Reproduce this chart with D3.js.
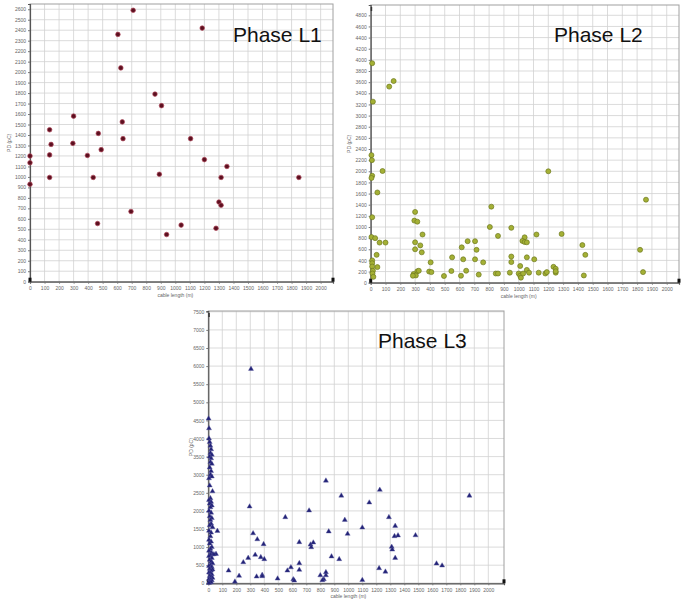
<!DOCTYPE html>
<html><head><meta charset="utf-8">
<script src="https://cdn.jsdelivr.net/npm/d3@7"></script>
<style>body{margin:0;background:#fff}svg{display:block}</style>
</head><body>
<script>
// ---- data ----
const xTicks = d3.range(0, 2001, 100);
const l1YTicks = d3.range(0, 2601, 100);
const l2YTicks = d3.range(0, 4801, 200);
const l3YTicks = d3.range(0, 7501, 500);

const l1Points = [
 [710,2590],[1185,2420],[605,2360],[625,2040],[860,1790],[905,1680],[300,1580],[635,1525],
 [135,1450],[470,1415],[640,1365],[1105,1365],[145,1310],[295,1320],[490,1260],[135,1210],
 [395,1205],[0,1200],[0,1135],[1200,1165],[1355,1100],[890,1025],[135,995],[435,995],
 [1315,995],[1850,995],[0,930],[695,670],[1300,760],[1315,730],[465,555],[1040,540],
 [1280,510],[940,450]
];
const l2Points = [
 [10,3940],[125,3520],[155,3620],[15,3250],[5,2290],[8,2200],[10,1920],[5,1880],[80,2005],
 [45,1620],[1200,2000],[1860,1490],[815,1365],[10,1175],[300,1270],[295,1115],[315,1095],
 [805,1000],[950,985],[350,865],[860,840],[1120,865],[1290,875],[5,820],[30,800],[1040,815],
 [100,720],[60,720],[300,725],[655,745],[705,745],[1025,750],[1040,730],[1055,725],[1430,675],
 [335,670],[615,635],[300,600],[715,590],[1820,590],[345,545],[40,500],[1450,500],[550,455],
 [950,470],[1055,455],[625,420],[705,420],[1105,420],[10,400],[10,350],[405,365],[760,365],
 [950,370],[10,290],[15,215],[45,280],[1010,300],[1235,285],[1250,250],[315,205],[325,215],
 [395,200],[410,190],[545,210],[645,215],[730,145],[290,155],[305,130],[285,125],[495,120],
 [610,125],[845,165],[860,165],[940,180],[1000,165],[1010,125],[1015,90],[1030,165],[1055,230],
 [1070,180],[1135,180],[1180,165],[1190,190],[1250,180],[1250,205],[1440,130],[1840,190],
 [12,165],[18,105]
];
const l3Points = [
 [305,5920],[840,2835],[1225,2580],[1865,2420],[950,2420],[1150,2230],[30,2540],[295,2120],
 [720,2010],[550,1825],[1290,1825],[975,1750],[65,1445],[1100,1540],[1335,1585],[320,1380],
 [860,1430],[995,1365],[1330,1300],[1355,1320],[1480,1325],[350,1215],[650,1135],[395,1080],
 [730,1070],[750,1125],[735,995],[1310,1005],[1314,930],[335,785],[55,810],[880,740],[935,665],
 [285,700],[250,580],[375,720],[400,665],[1335,700],[1630,545],[1670,490],[650,555],[650,370],
 [590,440],[565,350],[145,350],[1220,415],[1265,320],[385,230],[385,195],[345,185],[220,205],
 [190,45],[495,130],[607,110],[614,75],[800,220],[840,220],[840,305],[825,110],[815,85],[1100,90],
 // dense column near the origin
 [2,4550],[5,4280],[5,4000],[10,3900],[15,3800],[20,3700],[15,3600],[25,3550],[10,3500],
 [20,3450],[15,3350],[25,3300],[10,3200],[20,3100],[15,3000],[25,2950],[5,2900],[10,2700],
 [15,2350],[5,2300],[20,2250],[10,2200],[25,2150],[15,2100],[5,2000],[20,1950],[10,1850],
 [25,1800],[15,1750],[20,1650],[10,1600],[30,1550],[5,1450],[20,1400],[15,1300],[5,1200],
 [20,1150],[10,1100],[25,1000],[15,950],[5,900],[20,850],[30,800],[40,800],[15,780],[5,750],
 [25,700],[10,650],[20,600],[30,550],[15,500],[5,480],[25,450],[10,400],[30,380],[20,350],
 [5,300],[15,280],[25,250],[10,200],[20,180],[30,150],[5,120],[15,100],[25,80],[10,50],
 [20,30],[5,10]
];

const labels = ["Phase L1", "Phase L2", "Phase L3"];
const xTitle = "cable length (m)";
const yTitle = "PD (pC)";

// ---- layout ----
const svg = d3.select("body").append("svg").attr("width", 691).attr("height", 599);

const panels = [
 {pts:l1Points, yt:l1YTicks, left:30, right:333, top:4, bottom:281.7, xMax:2085, yMax:2650,
  label:labels[0], lx:233, ly:42, yTitleX:11, kind:"circleRed"},
 {pts:l2Points, yt:l2YTicks, left:370.7, right:679, top:5, bottom:282.7, xMax:2083, yMax:4985,
  label:labels[1], lx:554, ly:42, yTitleX:351, kind:"circleGreen"},
 {pts:l3Points, yt:l3YTicks, left:208.3, right:504, top:311, bottom:583.3, xMax:2112, yMax:7522,
  label:labels[2], lx:378, ly:347.5, yTitleX:193, kind:"triangle"}
];

panels.forEach(p => {
  const x = d3.scaleLinear().domain([0, p.xMax]).range([p.left, p.right]);
  const y = d3.scaleLinear().domain([0, p.yMax]).range([p.bottom, p.top]);
  const g = svg.append("g");

  // grid
  g.append("g").selectAll("line").data(xTicks.filter(d => d > 0)).join("line")
    .attr("x1", d => x(d)).attr("x2", d => x(d)).attr("y1", p.top).attr("y2", p.bottom)
    .attr("stroke", "#d2d2d2").attr("stroke-width", 0.8);
  g.append("g").selectAll("line").data(p.yt.filter(d => d > 0)).join("line")
    .attr("y1", d => y(d)).attr("y2", d => y(d)).attr("x1", p.left).attr("x2", p.right)
    .attr("stroke", "#d2d2d2").attr("stroke-width", 0.8);

  // frame
  g.append("rect").attr("x", p.left).attr("y", p.top)
    .attr("width", p.right - p.left).attr("height", p.bottom - p.top)
    .attr("fill", "none").attr("stroke", "#a0a0a0").attr("stroke-width", 1);

  // axes
  const ax = g.append("g").attr("transform", `translate(0,${p.bottom})`)
    .call(d3.axisBottom(x).tickValues(xTicks).tickSize(2).tickPadding(3).tickFormat(d3.format("d")));
  const ay = g.append("g").attr("transform", `translate(${p.left},0)`)
    .call(d3.axisLeft(y).tickValues(p.yt).tickSize(2).tickPadding(2).tickFormat(d3.format("d")));
  [ax, ay].forEach(a => {
    a.select(".domain").attr("stroke", "#555").attr("stroke-width", 1.2);
    a.selectAll(".tick line").attr("stroke", "#777");
    a.selectAll("text").attr("font-family", "Liberation Sans, Arial, sans-serif")
      .attr("font-size", 5).attr("fill", "#666");
  });

  // axis end markers
  g.append("rect").attr("x", x(0) - 1.5).attr("y", y(0) - 4).attr("width", 3).attr("height", 4).attr("fill", "#111");
  g.append("rect").attr("x", x(p.xMax) - 1.5).attr("y", y(0) - 4).attr("width", 3).attr("height", 4).attr("fill", "#111");
  if (p.kind !== "circleRed")
    g.append("rect").attr("x", x(0)).attr("y", y(p.yMax) + 2).attr("width", 1.5).attr("height", 4).attr("fill", "#333");

  // titles
  g.append("text").attr("x", (x(0) + x(2000)) / 2).attr("y", p.bottom + 15)
    .attr("text-anchor", "middle").attr("font-family", "Liberation Sans, Arial, sans-serif")
    .attr("font-size", 5).attr("fill", "#666").text(xTitle);
  g.append("text").attr("transform", `translate(${p.yTitleX},${(p.top + p.bottom) / 2}) rotate(-90)`)
    .attr("text-anchor", "middle").attr("font-family", "Liberation Sans, Arial, sans-serif")
    .attr("font-size", 5).attr("fill", "#666").text(yTitle);

  // points
  const pg = g.append("g");
  if (p.kind === "triangle") {
    const sym = d3.symbol().type(d3.symbolTriangle).size(11);
    pg.selectAll("path").data(p.pts).join("path")
      .attr("transform", d => `translate(${x(d[0])},${y(d[1])})`)
      .attr("d", sym).attr("fill", "#222277").attr("stroke", "#5a5aa0").attr("stroke-width", 0.4);
  } else if (p.kind === "circleRed") {
    pg.selectAll("circle").data(p.pts).join("circle")
      .attr("cx", d => x(d[0])).attr("cy", d => y(d[1])).attr("r", 2.3)
      .attr("fill", "#5c1020").attr("stroke", "#b0485a").attr("stroke-width", 0.7);
  } else {
    pg.selectAll("circle").data(p.pts).join("circle")
      .attr("cx", d => x(d[0])).attr("cy", d => y(d[1])).attr("r", 2.5)
      .attr("fill", "#a4b035").attr("stroke", "#6f7a20").attr("stroke-width", 0.7);
  }

  // label
  g.append("text").attr("x", p.lx).attr("y", p.ly)
    .attr("font-family", "Liberation Sans, Arial, sans-serif").attr("font-size", 21)
    .attr("fill", "#111").text(p.label);
});
</script>
</body></html>
